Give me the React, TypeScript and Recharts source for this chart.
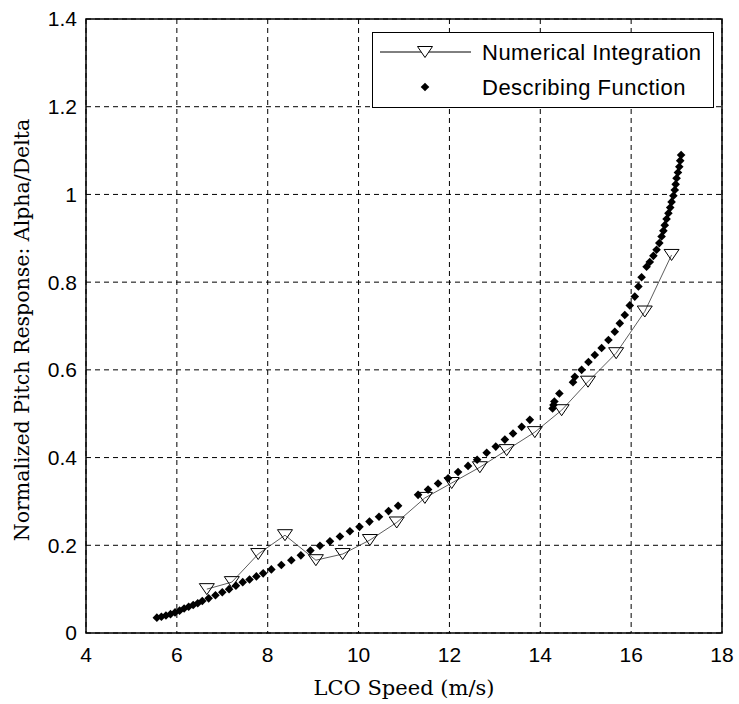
import React from 'react'
import { ComposedChart, Line, Scatter, XAxis, YAxis, CartesianGrid, ReferenceArea, Legend, Label } from 'recharts'

// Numerical Integration (open down-triangles joined by a thin line)
const numX = [6.66, 7.21, 7.79, 8.38, 9.06, 9.65, 10.25, 10.84, 11.46, 12.05, 12.67, 13.26, 13.88, 14.47, 15.05, 15.67, 16.3, 16.89]
const numY = [0.1, 0.116, 0.18, 0.223, 0.166, 0.18, 0.212, 0.252, 0.308, 0.342, 0.378, 0.417, 0.458, 0.508, 0.573, 0.638, 0.733, 0.862]

// Describing Function (filled diamonds)
const dfX = [
  5.56, 5.66, 5.76, 5.86, 5.96, 6.06, 6.16, 6.26, 6.36, 6.46, 6.56, 6.7, 6.85, 7.0, 7.15, 7.3, 7.45, 7.6, 7.75, 7.9,
  8.08, 8.3, 8.52, 8.73, 8.94, 9.15, 9.37, 9.59, 9.81, 10.02, 10.24, 10.45, 10.66, 10.87,
  11.31, 11.53, 11.75, 11.97, 12.19, 12.41, 12.61, 12.82, 13.02, 13.22, 13.4, 13.59, 13.77,
  14.27, 14.29, 14.31, 14.42, 14.72, 14.76, 14.91, 15.06, 15.2, 15.35, 15.5, 15.64, 15.75, 15.86, 15.97,
  16.08, 16.16, 16.23, 16.34, 16.41, 16.49, 16.56, 16.62, 16.67, 16.71, 16.74, 16.78, 16.82, 16.86, 16.89,
  16.93, 16.96, 16.98, 17.0, 17.03, 17.06, 17.08, 17.1,
]
const dfY = [
  0.035, 0.037, 0.04, 0.043, 0.047, 0.051, 0.056, 0.06, 0.064, 0.068, 0.073, 0.079, 0.086, 0.093, 0.1, 0.108, 0.116, 0.122, 0.129, 0.136,
  0.145, 0.155, 0.166, 0.177, 0.188, 0.199, 0.209, 0.22, 0.232, 0.242, 0.254, 0.265, 0.278, 0.29,
  0.315, 0.327, 0.341, 0.353, 0.367, 0.381, 0.395, 0.411, 0.425, 0.441, 0.455, 0.47, 0.486,
  0.512, 0.52, 0.528, 0.546, 0.572, 0.584, 0.6, 0.618, 0.634, 0.65, 0.668, 0.687, 0.706, 0.725, 0.747,
  0.767, 0.79, 0.811, 0.835, 0.846, 0.86, 0.874, 0.889, 0.904, 0.917, 0.93, 0.944, 0.957, 0.97, 0.983,
  0.997, 1.01, 1.023, 1.037, 1.05, 1.063, 1.077, 1.09,
]

const xTicks = [4, 6, 8, 10, 12, 14, 16, 18]
const yTicks = [0, 0.2, 0.4, 0.6, 0.8, 1, 1.2, 1.4]

const numName = 'Numerical Integration'
const dfName = 'Describing Function'
const xTitle = 'LCO Speed (m/s)'
const yTitle = 'Normalized Pitch Response: Alpha/Delta'

const numData = numX.map((x, i) => ({ x, y: numY[i] }))
const dfData = dfX.map((x, i) => ({ x, y: dfY[i] }))

const sansFont = '"Liberation Sans", Arial, sans-serif'
const serifFont = '"DejaVu Serif", serif'

const triPath = (cx: number, cy: number) =>
  `M${cx - 7.5},${cy - 5.5} L${cx + 7.5},${cy - 5.5} L${cx},${cy + 5.5} Z`
const diaPath = (cx: number, cy: number) =>
  `M${cx},${cy - 4.3} L${cx + 4.3},${cy} L${cx},${cy + 4.3} L${cx - 4.3},${cy} Z`

const TriDot = (props: any) => {
  const { cx, cy, index } = props
  if (cx == null || cy == null) return <g key={index} />
  return <path key={index} d={triPath(cx, cy)} fill="none" stroke="#000" strokeWidth={1} />
}

const Diamond = (props: any) => {
  const { cx, cy } = props
  return <path d={diaPath(cx, cy)} fill="#000" stroke="none" />
}

const LegendBox = () => (
  <svg width={342} height={76} style={{ display: 'block' }}>
    <rect x={0.5} y={0.5} width={341} height={75} fill="#fff" stroke="#000" />
    <line x1={8} x2={99} y1={20} y2={20} stroke="#000" strokeWidth={1} />
    <path d={triPath(53, 20)} fill="#fff" stroke="#000" />
    <text x={110} y={20} dominantBaseline="central" fontFamily={sansFont} fontSize={22} letterSpacing={0.5} fill="#000">{numName}</text>
    <path d={diaPath(53, 55)} fill="#000" />
    <text x={110} y={55} dominantBaseline="central" fontFamily={sansFont} fontSize={22} letterSpacing={0.5} fill="#000">{dfName}</text>
  </svg>
)

const YTitle = (props: any) => {
  const { x, y, height } = props.viewBox
  const cx = x + 22
  const cy = y + height / 2 + 4
  return (
    <text x={cx} y={cy} transform={`rotate(-90 ${cx} ${cy})`} textAnchor="middle" dominantBaseline="central"
      fontFamily={serifFont} fontSize={20.5} fill="#000">{yTitle}</text>
  )
}

const XTitle = (props: any) => {
  const { x, y, width } = props.viewBox
  return (
    <text x={x + width / 2} y={y + 55} textAnchor="middle" dominantBaseline="central"
      fontFamily={serifFont} fontSize={21} fill="#000">{xTitle}</text>
  )
}

export default function App() {
  const tickStyle = { fontFamily: sansFont, fontSize: 21, fill: '#000' }
  return (
    <div style={{ position: 'absolute', left: 0, top: 0, width: 739, height: 704, background: '#fff' }}>
      <ComposedChart width={739} height={704} margin={{ top: 19, right: 17, left: 0, bottom: 7 }}>
        <CartesianGrid stroke="#000" strokeDasharray="5 4" />
        <XAxis dataKey="x" type="number" domain={[4, 18]} ticks={xTicks} height={64}
          tickLine={false} tickSize={0} tickMargin={14} axisLine={false} tick={tickStyle}
          allowDataOverflow label={<Label content={XTitle} />} />
        <YAxis type="number" domain={[0, 1.4]} ticks={yTicks} width={86}
          tickLine={false} tickSize={0} tickMargin={9} axisLine={false} tick={tickStyle}
          tickFormatter={(v: number) => String(v)} allowDataOverflow label={<Label content={YTitle} />} />
        <ReferenceArea x1={4} x2={18} y1={0} y2={1.4} fill="none" stroke="#000" strokeWidth={1.5} ifOverflow="visible" />
        <Scatter name={dfName} data={dfData} dataKey="y" shape={Diamond} isAnimationActive={false} />
        <Line name={numName} data={numData} dataKey="y" type="linear" stroke="#333" strokeWidth={0.8}
          dot={TriDot} activeDot={false} isAnimationActive={false} />
        <Legend layout="vertical" align="center" verticalAlign="middle"
          wrapperStyle={{ left: 372, top: 32, width: 342, height: 76 }} content={() => <LegendBox />} />
      </ComposedChart>
    </div>
  )
}
